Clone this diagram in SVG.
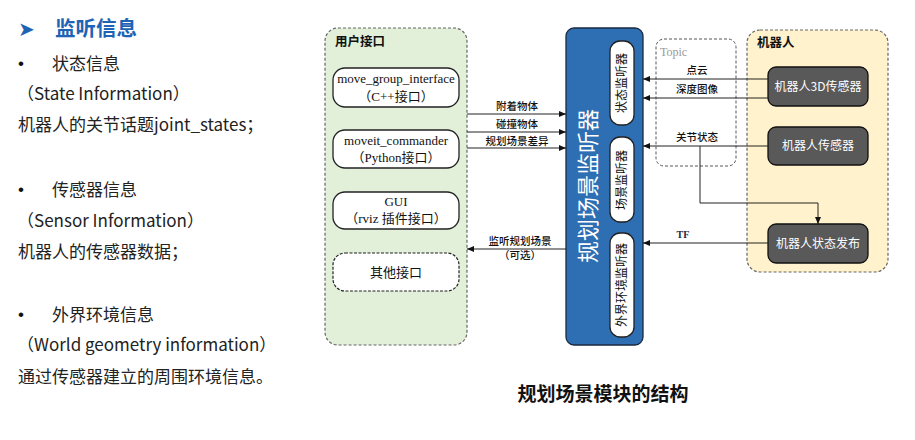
<svg xmlns="http://www.w3.org/2000/svg" width="915" height="440" viewBox="0 0 915 440">
<style>
.cj{font-family:"Noto Sans CJK SC","Noto Sans",sans-serif;}
.lt{font-size:17px;fill:#222;}
.bl{font-family:"Liberation Sans",sans-serif;font-size:17px;fill:#111;}
.sf{font-family:"Liberation Serif","Noto Sans CJK SC",serif;font-size:13px;fill:#111;}
.lbl{font-family:"Noto Sans CJK SC",sans-serif;font-size:10.5px;fill:#111;font-weight:500;}
.wb{fill:#fff;stroke:#222;stroke-width:1.3;}
.dk{fill:#595959;stroke:#111;stroke-width:1.3;}
.dkt{font-family:"Noto Sans CJK SC",sans-serif;font-size:12px;fill:#fff;}
.ln{stroke:#222;stroke-width:1;fill:none;}
</style>
<defs>
<marker id="ah" markerWidth="8" markerHeight="8" refX="7" refY="4" orient="auto" markerUnits="userSpaceOnUse">
<path d="M0,1 L7,4 L0,7 Z" fill="#111"/>
</marker>
</defs>
<rect width="915" height="440" fill="#fff"/>
<g id="left-text" class="cj">
<text x="18" y="36" font-family="DejaVu Sans" font-size="20" fill="#1f63b5">➤</text>
<text x="55" y="36" font-size="20.5" font-weight="bold" fill="#1f63b5">监听信息</text>
<text x="18" y="69" class="bl">•</text>
<text x="52" y="70" class="lt">状态信息</text>
<text x="17" y="100" class="lt">（State Information）</text>
<text x="18" y="131" class="lt">机器人的关节话题joint_states；</text>
<text x="18" y="195" class="bl">•</text>
<text x="52" y="196" class="lt">传感器信息</text>
<text x="17" y="227" class="lt">（Sensor Information）</text>
<text x="18" y="258" class="lt">机器人的传感器数据；</text>
<text x="18" y="320" class="bl">•</text>
<text x="52" y="321" class="lt">外界环境信息</text>
<text x="17" y="351" class="lt">（World geometry information）</text>
<text x="18" y="383" class="lt">通过传感器建立的周围环境信息。</text>
</g>
<g id="user-interface">
<rect x="325" y="28" width="142" height="317" rx="13" fill="#e2efd9" stroke="#666" stroke-width="1.2" stroke-dasharray="3,2"/>
<text x="335" y="46" class="cj" font-size="12.5" font-weight="bold" fill="#111">用户接口</text>
</g>
<g id="move-group-interface">
<rect x="333" y="68" width="126" height="39" rx="12" class="wb"/>
<text x="396" y="83" class="sf" text-anchor="middle">move_group_interface</text>
<text x="396" y="101" class="sf" text-anchor="middle">（C++接口）</text>
</g>
<g id="moveit-commander">
<rect x="333" y="130" width="126" height="38" rx="12" class="wb"/>
<text x="396" y="145" class="sf" text-anchor="middle">moveit_commander</text>
<text x="396" y="162" class="sf" text-anchor="middle">（Python接口）</text>
</g>
<g id="gui">
<rect x="333" y="192" width="126" height="37" rx="12" class="wb"/>
<text x="396" y="206" class="sf" text-anchor="middle">GUI</text>
<text x="396" y="223" class="sf" text-anchor="middle">（rviz 插件接口）</text>
</g>
<g id="other-interface">
<rect x="333" y="253" width="126" height="38" rx="12" fill="#fff" stroke="#222" stroke-width="1.2" stroke-dasharray="3,1.5"/>
<text x="396" y="277" class="cj" font-size="13" fill="#111" text-anchor="middle">其他接口</text>
</g>
<g id="planning-scene-monitor">
<rect x="566" y="28" width="77" height="317" rx="8" fill="#2e6eb3" stroke="#1a2a40" stroke-width="1.3"/>
<text transform="translate(596,186) rotate(-90)" class="cj" font-size="22" fill="#fff" text-anchor="middle">规划场景监听器</text>
</g>
<g id="state-monitor">
<rect x="610" y="41" width="24" height="84" rx="10" class="wb"/>
<text transform="translate(626,83) rotate(-90)" class="cj" font-size="12" fill="#111" text-anchor="middle">状态监听器</text>
</g>
<g id="scene-monitor">
<rect x="610" y="137" width="24" height="85" rx="10" class="wb"/>
<text transform="translate(626,180) rotate(-90)" class="cj" font-size="12" fill="#111" text-anchor="middle">场景监听器</text>
</g>
<g id="world-monitor">
<rect x="610" y="233" width="24" height="104" rx="10" class="wb"/>
<text transform="translate(626,285) rotate(-90)" class="cj" font-size="12" fill="#111" text-anchor="middle">外界环境监听器</text>
</g>
<g id="topic">
<rect x="656" y="39" width="80" height="127" rx="8" fill="#fff" stroke="#555" stroke-width="1" stroke-dasharray="3,2"/>
<text x="660" y="56" font-family="Liberation Serif,serif" font-size="12" fill="#999">Topic</text>
</g>
<g id="robot">
<rect x="747" y="30" width="141" height="242" rx="13" fill="#fff2cc" stroke="#666" stroke-width="1.2" stroke-dasharray="3,2"/>
<text x="757" y="47" class="cj" font-size="12.5" font-weight="bold" fill="#111">机器人</text>
</g>
<g id="robot-3d-sensor">
<rect x="768" y="67" width="100" height="39" rx="8" class="dk"/>
<text x="818" y="91" class="dkt" text-anchor="middle">机器人3D传感器</text>
</g>
<g id="robot-sensor">
<rect x="768" y="127" width="100" height="38" rx="8" class="dk"/>
<text x="818" y="150" class="dkt" text-anchor="middle">机器人传感器</text>
</g>
<g id="robot-state-publisher">
<rect x="768" y="224" width="100" height="39" rx="8" class="dk"/>
<text x="818" y="248" class="dkt" text-anchor="middle">机器人状态发布</text>
</g>
<g id="connectors">
<line x1="467" y1="114" x2="566" y2="114" class="ln" marker-end="url(#ah)"/>
<line x1="467" y1="132" x2="566" y2="132" class="ln" marker-end="url(#ah)"/>
<line x1="467" y1="148" x2="566" y2="148" class="ln" marker-end="url(#ah)"/>
<line x1="566" y1="249" x2="467" y2="249" class="ln" marker-end="url(#ah)"/>
<line x1="768" y1="79" x2="643" y2="79" class="ln" marker-end="url(#ah)"/>
<line x1="768" y1="98" x2="643" y2="98" class="ln" marker-end="url(#ah)"/>
<line x1="768" y1="146" x2="643" y2="146" class="ln" marker-end="url(#ah)"/>
<line x1="768" y1="243" x2="643" y2="243" class="ln" marker-end="url(#ah)"/>
<path d="M700,146 V203 H818 V224" class="ln" marker-end="url(#ah)"/>
<text x="517" y="110" class="lbl" text-anchor="middle">附着物体</text>
<text x="517" y="128" class="lbl" text-anchor="middle">碰撞物体</text>
<text x="517" y="145" class="lbl" text-anchor="middle">规划场景差异</text>
<text x="520" y="245" class="lbl" text-anchor="middle">监听规划场景</text>
<text x="520" y="259" class="lbl" text-anchor="middle">（可选）</text>
<text x="697" y="74" class="lbl" text-anchor="middle">点云</text>
<text x="697" y="93" class="lbl" text-anchor="middle">深度图像</text>
<text x="697" y="141" class="lbl" text-anchor="middle">关节状态</text>
<text x="683" y="238" font-family="Liberation Serif,serif" font-size="10" font-weight="bold" fill="#1a2a40" text-anchor="middle">TF</text>
</g>
<text x="603" y="401" class="cj" font-size="19" font-weight="bold" fill="#111" text-anchor="middle">规划场景模块的结构</text>
</svg>
